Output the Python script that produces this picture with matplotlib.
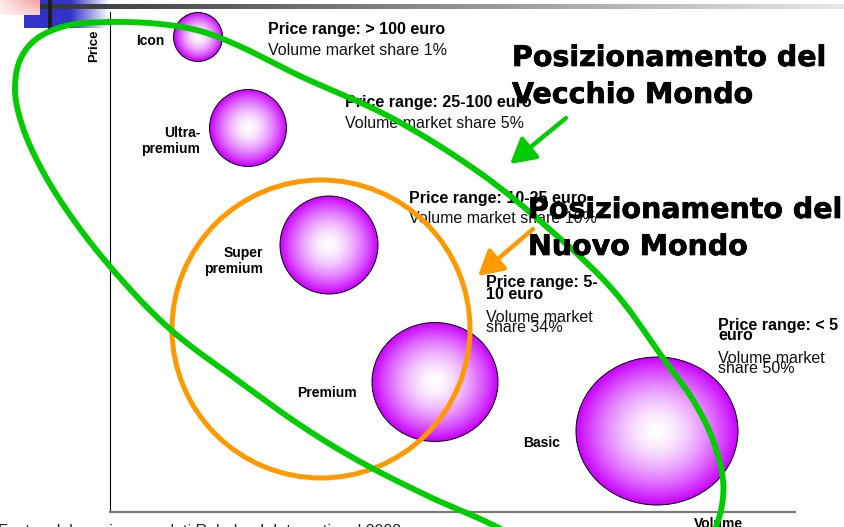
import numpy as np
import matplotlib
matplotlib.use("Agg")
import matplotlib.pyplot as plt
import matplotlib.patheffects as pe
from matplotlib.patches import Ellipse, FancyArrowPatch, ArrowStyle
from matplotlib.colors import to_rgb

# ---------------- data ----------------
segments = ["Icon", "Ultra-\npremium", "Super\npremium", "Premium", "Basic"]
price_ranges = ["Price range: > 100 euro", "Price range: 25-100 euro",
                "Price range: 10-25 euro", "Price range: 5-\n10 euro",
                "Price range: < 5\neuro"]
share_labels = ["Volume market share 1%", "Volume market share 5%",
                "Volume market share 10%", "Volume market\nshare 34%",
                "Volume market\nshare 50%"]
volume_share = [1, 5, 10, 34, 50]
# bubble position on the map (volume axis, price axis) and bubble extent
volume_pos = [88, 138, 219, 325, 547]
price_pos = [475, 384, 267, 130, 81]
bubble_w = [49, 77, 98, 126, 162]
bubble_h = [49, 77, 98, 119, 148]

titles = ["Posizionamento del\nVecchio Mondo", "Posizionamento del\nNuovo Mondo"]
axis_labels = ["Volume", "Price"]
source = "Fonte: elaborazione su dati Rabobank International 2003"

# ---------------- layout ----------------
W, H = 844, 527
fig = plt.figure(figsize=(W / 100, H / 100), dpi=100)
fig.patch.set_facecolor("white")

ax = fig.add_axes([110 / W, 15 / H, 685 / W, 500 / H], zorder=1)
ax.set_xlim(0, 685)
ax.set_ylim(0, 500)
for s in ("top", "right"):
    ax.spines[s].set_visible(False)
ax.spines["left"].set_color("black")
ax.spines["left"].set_linewidth(0.8)
ax.spines["bottom"].set_color("#7a7a7a")
ax.spines["bottom"].set_linewidth(1.6)
ax.set_xticks([])
ax.set_yticks([])

# radial gradient bubbles
purple = np.array(to_rgb("#C800FF"))
white = np.ones(3)
n = 240
yy, xx = np.mgrid[-1:1:n * 1j, -1:1:n * 1j]
r = np.clip(np.sqrt(xx ** 2 + yy ** 2), 0, 1)
f = (r ** 1.6)[..., None]
grad = white * (1 - f) + purple * f

for x, y, w, h in zip(volume_pos, price_pos, bubble_w, bubble_h):
    e = Ellipse((x, y), w, h, facecolor="none", edgecolor="black", lw=0.7, zorder=3)
    ax.add_patch(e)
    im = ax.imshow(grad, extent=[x - w / 2, x + w / 2, y - h / 2, y + h / 2],
                   origin="lower", interpolation="bilinear", zorder=2)
    im.set_clip_path(e)
ax.set_aspect("auto")
ax.set_xlim(0, 685)
ax.set_ylim(0, 500)

# ---------------- overlay in pixel units ----------------
ov = fig.add_axes([0, 0, 1, 1], zorder=5)
ov.patch.set_alpha(0)
ov.axis("off")

def hgrad(c0, c1, m=200):
    t = np.linspace(0, 1, m)[None, :, None]
    return np.array(to_rgb(c0)) * (1 - t) + np.array(to_rgb(c1)) * t

# slide decoration
ov.imshow(hgrad("#2f2f2f", "#e8e8e8"), extent=(14, 844, 9, 4), aspect="auto", zorder=1)
blue = np.concatenate([hgrad("#3333cc", "#3333cc", 46), hgrad("#3333cc", "#ffffff", 40)], axis=1)
ov.imshow(blue, extent=(24, 110, 28, 9), aspect="auto", zorder=0.9)
ov.imshow(blue[:, 16:], extent=(40, 110, 9, 0), aspect="auto", zorder=0.9)
pink = np.concatenate([hgrad("#fde4e4", "#f5a0a0", 40)] * 15, axis=0)
fade = np.linspace(0, 0.5, 15)[:, None, None]
pink = pink * (1 - fade) + fade
ov.imshow(pink, extent=(0, 40, 15, 0), aspect="auto", zorder=1.1)
ov.plot([50, 50], [0, 31], color="#1e1e1e", lw=3, solid_capstyle="butt", zorder=1.2)

ov.set_xlim(0, W)
ov.set_ylim(H, 0)

FONT = "Liberation Sans"

def lines_text(x, baselines, text, **kw):
    for yb, line in zip(baselines, text.split("\n")):
        ov.text(x, yb, line, va="baseline", family=FONT, **kw)

# price-range / share annotations
info_x = [268, 345, 409, 486, 718]
price_base = [[34], [107], [203], [287, 299], [330, 340]]
share_base = [[55], [128], [223], [322, 332], [363, 373]]
for i in range(5):
    lines_text(info_x[i], price_base[i], price_ranges[i], fontsize=11.5,
               fontweight="bold", color="black", zorder=3)
    lines_text(info_x[i], share_base[i], share_labels[i], fontsize=11.5,
               color="#111111", zorder=3)

# segment labels
seg_x = [164, 200, 263, 297, 523]
seg_ha = ["right", "right", "right", "left", "left"]
seg_base = [[45], [137, 153], [257, 273], [397], [447]]
for i in range(5):
    lines_text(seg_x[i], seg_base[i], segments[i], fontsize=10,
               fontweight="bold", ha=seg_ha[i], zorder=3)

# axis labels
ov.text(718, 528, axis_labels[0], ha="center", va="baseline", family=FONT,
        fontsize=10, fontweight="bold", zorder=3)
ov.text(94, 46, axis_labels[1], ha="center", va="center", rotation=90,
        family=FONT, fontsize=9.5, fontweight="bold", zorder=3)

# source line (cut by the slide edge)
ov.text(-2, 535.5, source, ha="left", va="baseline", family=FONT, fontsize=11.5,
        color="#222222", zorder=3)

# orange "Nuovo Mondo" circle
ov.add_patch(Ellipse((321, 329), 298, 298, facecolor="none", edgecolor="#FF9900",
                     lw=3.6, zorder=4))

# green "Vecchio Mondo" hand-drawn loop
green_outline = [(110, 22), (160, 24), (200, 31), (237, 45), (300, 76), (390, 117),
                 (480, 173), (547, 227), (613, 290), (663, 358), (693, 400),
                 (713, 440), (723, 480), (722, 505), (715, 530), (700, 565),
                 (650, 588), (575, 570), (493, 525), (430, 497), (357, 460),
                 (300, 425), (240, 382), (171, 330), (120, 278), (75, 222),
                 (42, 170), (22, 125), (15, 90), (20, 60), (35, 40), (65, 26)]

def catmull_rom_closed(pts, m=40, alpha=0.5):
    P = np.asarray(pts, float)
    N = len(P)
    out = []
    for i in range(N):
        p0, p1, p2, p3 = P[i - 1], P[i], P[(i + 1) % N], P[(i + 2) % N]
        t0 = 0.0
        t1 = t0 + np.linalg.norm(p1 - p0) ** alpha
        t2 = t1 + np.linalg.norm(p2 - p1) ** alpha
        t3 = t2 + np.linalg.norm(p3 - p2) ** alpha
        t = np.linspace(t1, t2, m, endpoint=False)[:, None]
        a1 = (t1 - t) / (t1 - t0) * p0 + (t - t0) / (t1 - t0) * p1
        a2 = (t2 - t) / (t2 - t1) * p1 + (t - t1) / (t2 - t1) * p2
        a3 = (t3 - t) / (t3 - t2) * p2 + (t - t2) / (t3 - t2) * p3
        b1 = (t2 - t) / (t2 - t0) * a1 + (t - t0) / (t2 - t0) * a2
        b2 = (t3 - t) / (t3 - t1) * a2 + (t - t1) / (t3 - t1) * a3
        out.append((t2 - t) / (t2 - t1) * b1 + (t - t1) / (t2 - t1) * b2)
    out = np.vstack(out)
    return np.vstack([out, out[:1]])

g = catmull_rom_closed(green_outline)
ov.plot(g[:, 0], g[:, 1], color="#00CC00", lw=4.2, solid_joinstyle="round", zorder=4)

# arrows
style = ArrowStyle("-|>", head_length=0.75, head_width=0.42)
ov.add_patch(FancyArrowPatch((566, 118), (510, 164), arrowstyle=style, mutation_scale=20,
                             color="#00CC00", lw=3.2, shrinkA=0, shrinkB=0, zorder=5))
ov.add_patch(FancyArrowPatch((533, 229), (478, 276), arrowstyle=style, mutation_scale=20,
                             color="#FF9900", lw=3.2, shrinkA=0, shrinkB=0, zorder=5))

# titles
title_x = [512, 528]
title_base = [[66, 103], [218, 255]]
for i in range(2):
    for yb, line in zip(title_base[i], titles[i].split("\n")):
        ov.text(title_x[i], yb, line, va="baseline", ha="left", family="DejaVu Sans",
                fontsize=20.5, fontweight="bold", color="black", zorder=6,
                path_effects=[pe.withStroke(linewidth=0.5, foreground="black")])

fig.savefig("out.png", dpi=100, facecolor="white")
